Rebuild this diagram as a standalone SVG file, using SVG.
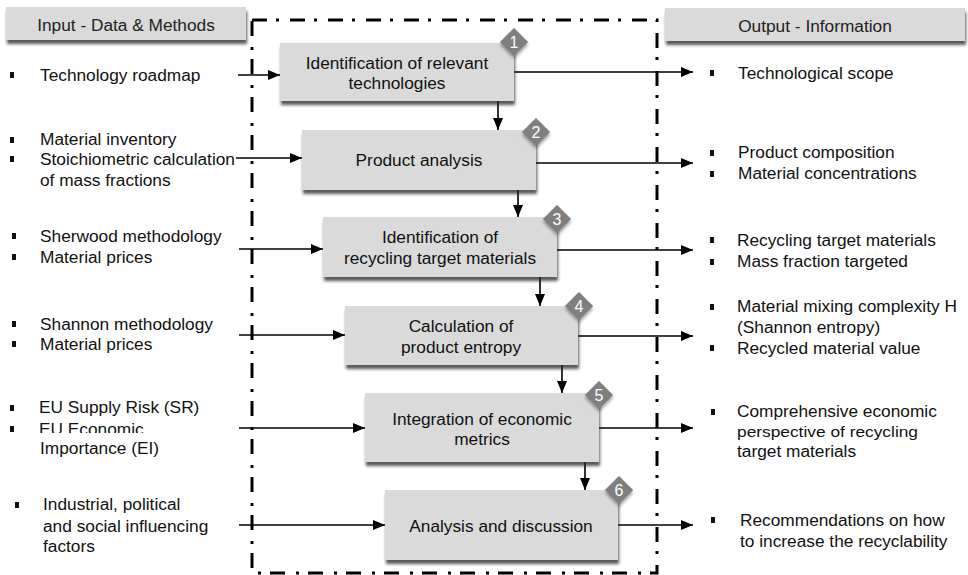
<svg xmlns="http://www.w3.org/2000/svg" width="968" height="575" viewBox="0 0 968 575">
<defs>
<filter id="sh" x="-10%" y="-20%" width="125%" height="150%">
<feDropShadow dx="1" dy="4" stdDeviation="1.8" flood-color="#222" flood-opacity="0.75"/>
</filter>
<filter id="sh2" x="-30%" y="-30%" width="170%" height="170%">
<feDropShadow dx="2" dy="2" stdDeviation="1.5" flood-color="#444" flood-opacity="0.5"/>
</filter>
<marker id="ah" markerWidth="12" markerHeight="10" refX="12" refY="5" orient="auto" markerUnits="userSpaceOnUse">
<path d="M0,0 L12,5 L0,10 Z" fill="#000"/>
</marker>
<clipPath id="clipEE"><rect x="0" y="420" width="250" height="13"/></clipPath>
</defs>
<style>
text{font-family:"Liberation Sans",Arial,sans-serif;font-size:17.3px;fill:#111}
.box{fill:#dadada;filter:url(#sh)}
.hdr{fill:#dadada;filter:url(#sh)}
.dia{fill:#7f7f7f;filter:url(#sh2)}
.num{fill:#fff;font-size:16px;text-anchor:middle}
.c{text-anchor:middle}
.bul{fill:#111}
.ln{stroke:#000;stroke-width:1.6;fill:none}
.frame{stroke:#000;stroke-width:3;fill:none;stroke-dasharray:15 9 3 11}
</style>

<rect x="0" y="0" width="968" height="575" fill="#fff"/>

<g id="frame">
<rect class="frame" x="252" y="20" width="405" height="553"/>
</g>

<g id="header-input">
<rect class="hdr" x="6" y="7" width="240" height="33"/>
<text class="c" x="126" y="31" style="fill:#222">Input - Data &amp; Methods</text>
</g>
<g id="header-output">
<rect class="hdr" x="665" y="8" width="300" height="33"/>
<text class="c" x="815" y="32" style="fill:#222">Output - Information</text>
</g>

<g id="connectors">
<line class="ln" x1="238" y1="75" x2="280" y2="75" marker-end="url(#ah)"/>
<line class="ln" x1="236" y1="158" x2="302" y2="158" marker-end="url(#ah)"/>
<line class="ln" x1="239" y1="249" x2="323" y2="249" marker-end="url(#ah)"/>
<line class="ln" x1="239" y1="335" x2="345" y2="335" marker-end="url(#ah)"/>
<line class="ln" x1="239" y1="428" x2="365" y2="428" marker-end="url(#ah)"/>
<line class="ln" x1="239" y1="525" x2="385" y2="525" marker-end="url(#ah)"/>
<line class="ln" x1="514" y1="72" x2="693" y2="72" marker-end="url(#ah)"/>
<line class="ln" x1="536" y1="163" x2="693" y2="163" marker-end="url(#ah)"/>
<line class="ln" x1="557" y1="250" x2="693" y2="250" marker-end="url(#ah)"/>
<line class="ln" x1="578" y1="336" x2="693" y2="336" marker-end="url(#ah)"/>
<line class="ln" x1="599" y1="428" x2="693" y2="428" marker-end="url(#ah)"/>
<line class="ln" x1="618" y1="525" x2="693" y2="525" marker-end="url(#ah)"/>
<line class="ln" x1="498" y1="101" x2="498" y2="130" marker-end="url(#ah)"/>
<line class="ln" x1="518" y1="190" x2="518" y2="217" marker-end="url(#ah)"/>
<line class="ln" x1="540" y1="277" x2="540" y2="306" marker-end="url(#ah)"/>
<line class="ln" x1="562" y1="365" x2="562" y2="393" marker-end="url(#ah)"/>
<line class="ln" x1="585" y1="462" x2="585" y2="490" marker-end="url(#ah)"/>
</g>

<g id="node1">
<rect class="box" x="280" y="43" width="234" height="58"/>
<text class="c" x="397" y="69">Identification of relevant</text>
<text class="c" x="397" y="89">technologies</text>
<rect class="dia" x="504" y="32" width="20" height="20" transform="rotate(45 514 42)"/>
<text class="num" x="514" y="48">1</text>
</g>
<g id="node2">
<rect class="box" x="302" y="130" width="234" height="60"/>
<text class="c" x="419" y="166">Product analysis</text>
<rect class="dia" x="526" y="122" width="20" height="20" transform="rotate(45 536 132)"/>
<text class="num" x="536" y="138">2</text>
</g>
<g id="node3">
<rect class="box" x="323" y="217" width="234" height="60"/>
<text class="c" x="440" y="243">Identification of</text>
<text class="c" x="440" y="264">recycling target materials</text>
<rect class="dia" x="547" y="209" width="20" height="20" transform="rotate(45 557 219)"/>
<text class="num" x="557" y="225">3</text>
</g>
<g id="node4">
<rect class="box" x="345" y="306" width="233" height="59"/>
<text class="c" x="461" y="332">Calculation of</text>
<text class="c" x="461" y="353">product entropy</text>
<rect class="dia" x="569" y="296" width="20" height="20" transform="rotate(45 579 306)"/>
<text class="num" x="579" y="312">4</text>
</g>
<g id="node5">
<rect class="box" x="365" y="393" width="234" height="69"/>
<text class="c" x="482" y="425">Integration of economic</text>
<text class="c" x="482" y="445">metrics</text>
<rect class="dia" x="589" y="385" width="20" height="20" transform="rotate(45 599 395)"/>
<text class="num" x="599" y="401">5</text>
</g>
<g id="node6">
<rect class="box" x="385" y="490" width="233" height="70"/>
<text class="c" x="501" y="532">Analysis and discussion</text>
<rect class="dia" x="609" y="480" width="20" height="20" transform="rotate(45 619 490)"/>
<text class="num" x="619" y="496">6</text>
</g>

<g id="inputs">
<rect class="bul" x="10" y="72" width="4" height="6"/>
<text x="40" y="81">Technology roadmap</text>
<rect class="bul" x="10" y="137" width="4" height="6"/>
<rect class="bul" x="10" y="156" width="4" height="6"/>
<text x="40" y="145">Material inventory</text>
<text x="40" y="165">Stoichiometric calculation</text>
<text x="40" y="186">of mass fractions</text>
<rect class="bul" x="12" y="233" width="4" height="6"/>
<rect class="bul" x="12" y="254" width="4" height="6"/>
<text x="40" y="242">Sherwood methodology</text>
<text x="40" y="263">Material prices</text>
<rect class="bul" x="12" y="321" width="4" height="6"/>
<rect class="bul" x="12" y="341" width="4" height="6"/>
<text x="40" y="330">Shannon methodology</text>
<text x="40" y="350">Material prices</text>
<rect class="bul" x="10" y="405" width="4" height="6"/>
<rect class="bul" x="10" y="426" width="4" height="6"/>
<text x="39" y="413">EU Supply Risk (SR)</text>
<text x="39" y="435" clip-path="url(#clipEE)">EU Economic</text>
<text x="40" y="454">Importance (EI)</text>
<rect class="bul" x="15" y="502" width="4" height="6"/>
<text x="43" y="510">Industrial, political</text>
<text x="43" y="532">and social influencing</text>
<text x="43" y="552">factors</text>
</g>

<g id="outputs">
<rect class="bul" x="710" y="70" width="4" height="6"/>
<text x="738" y="79">Technological scope</text>
<rect class="bul" x="710" y="150" width="4" height="6"/>
<rect class="bul" x="710" y="171" width="4" height="6"/>
<text x="738" y="158">Product composition</text>
<text x="738" y="179">Material concentrations</text>
<rect class="bul" x="710" y="237" width="4" height="6"/>
<rect class="bul" x="710" y="259" width="4" height="6"/>
<text x="737" y="246">Recycling target materials</text>
<text x="737" y="267">Mass fraction targeted</text>
<rect class="bul" x="710" y="304" width="4" height="6"/>
<rect class="bul" x="710" y="345" width="4" height="6"/>
<text x="737" y="312">Material mixing complexity H</text>
<text x="737" y="333">(Shannon entropy)</text>
<text x="737" y="354">Recycled material value</text>
<rect class="bul" x="711" y="409" width="4" height="6"/>
<text x="737" y="417">Comprehensive economic</text>
<text x="737" y="437" style="font-size:14px" textLength="181" lengthAdjust="spacingAndGlyphs">perspective of recycling</text>
<text x="737" y="457">target materials</text>
<rect class="bul" x="711" y="517" width="4" height="6"/>
<text x="740" y="526">Recommendations on how</text>
<text x="740" y="547">to increase the recyclability</text>
</g>
</svg>
